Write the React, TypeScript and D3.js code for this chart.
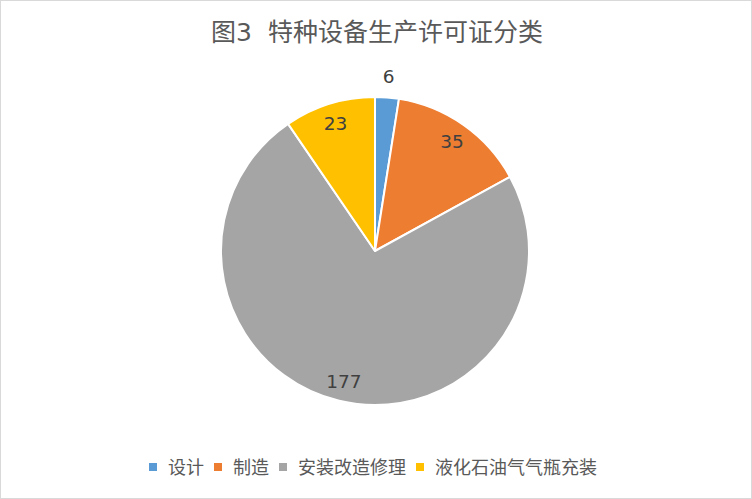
import React from "react"
import * as d3 from "d3"

const categories = ["设计", "制造", "安装改造修理", "液化石油气气瓶充装"]
const values = [6, 35, 177, 23]
const colors = ["#5B9BD5", "#ED7D31", "#A5A5A5", "#FFC000"]
const title = "图3  特种设备生产许可证分类"

const width = 752
const height = 499
const cx = 375
const cy = 251
const radius = 154
const font = "'DejaVu Sans', 'Noto Sans CJK SC', sans-serif"

export default function App() {
  const pie = d3.pie<number>().sort(null).value(d => d)
  const arcs = pie(values)
  const arc = d3.arc<d3.PieArcDatum<number>>().innerRadius(0).outerRadius(radius)
  const total = d3.sum(values)

  // label placement: inside near the rim, outside for tiny slices
  const labelPos = (a) => {
    const mid = (a.startAngle + a.endAngle) / 2
    const r = a.value / total < 0.05 ? radius + 21 : radius * 0.87
    return [Math.sin(mid) * r, -Math.cos(mid) * r]
  }

  // legend layout
  const legendFont = 18
  const marker = 8
  const markerGap = 11
  const itemGap = 10
  const itemWidths = categories.map(c => marker + markerGap + c.length * legendFont)
  const legendTotal = d3.sum(itemWidths) + itemGap * (categories.length - 1)
  let lx = cx - 2 - legendTotal / 2
  const legendX = itemWidths.map(w => {
    const x = lx
    lx += w + itemGap
    return x
  })
  const legendY = 467

  return (
    <svg width={width} height={height} style={{ position: "absolute", left: 0, top: 0, background: "#fff" }} fontFamily={font}>
      <rect x={0.5} y={0.5} width={width - 1} height={height - 1} fill="#fff" stroke="#D9D9D9" />
      <text x={cx + 2} y={32} textAnchor="middle" dominantBaseline="central" fontSize={25} fill="#595959" style={{ whiteSpace: "pre" }}>{title}</text>
      <g transform={`translate(${cx},${cy})`}>
        {arcs.map((a, i) => (
          <path key={i} d={arc(a)} fill={colors[i]} stroke="#fff" strokeWidth={2} strokeLinejoin="round" />
        ))}
        {arcs.map((a, i) => {
          const [x, y] = labelPos(a)
          return (
            <text key={i} x={x} y={y} textAnchor="middle" dominantBaseline="central" fontSize={18.5} fill="#404040">{a.value}</text>
          )
        })}
      </g>
      <g>
        {categories.map((c, i) => (
          <g key={c} transform={`translate(${legendX[i]},${legendY})`}>
            <rect x={0} y={-marker / 2} width={marker} height={marker} fill={colors[i]} />
            <text x={marker + markerGap} y={0} dominantBaseline="central" fontSize={legendFont} fill="#595959">{c}</text>
          </g>
        ))}
      </g>
    </svg>
  )
}
